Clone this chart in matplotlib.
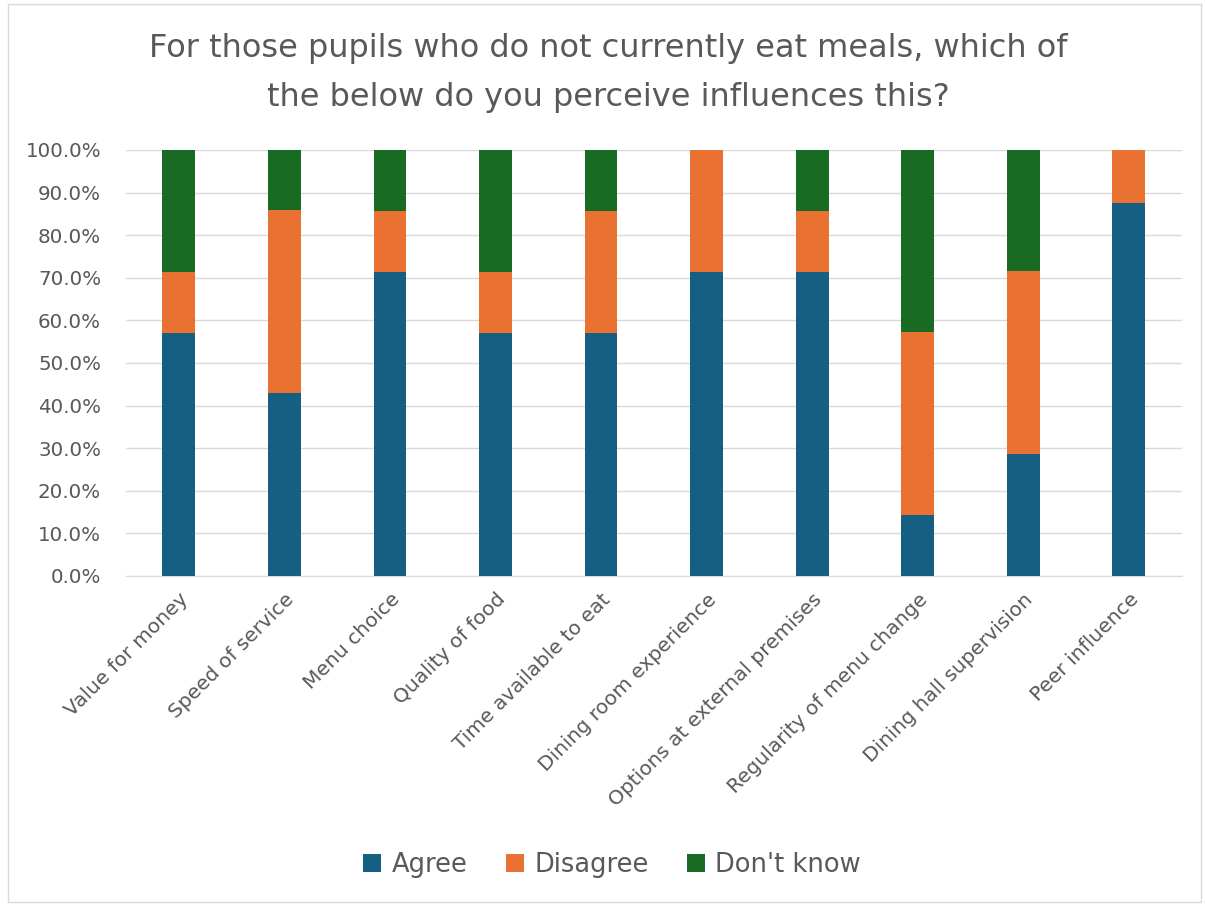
import matplotlib.pyplot as plt
import numpy as np

categories = ["Value for money", "Speed of service", "Menu choice", "Quality of food",
              "Time available to eat", "Dining room experience",
              "Options at external premises", "Regularity of menu change",
              "Dining hall supervision", "Peer influence"]
agree = [57.1, 42.9, 71.4, 57.1, 57.1, 71.4, 71.4, 14.3, 28.6, 87.5]
disagree = [14.3, 42.9, 14.3, 14.3, 28.6, 28.6, 14.3, 42.9, 42.9, 12.5]
dont_know = [28.6, 14.3, 14.3, 28.6, 14.3, 0.0, 14.3, 42.9, 28.6, 0.0]
y_ticks = [0, 10, 20, 30, 40, 50, 60, 70, 80, 90, 100]

colors = {"Agree": "#156082", "Disagree": "#E97132", "Don't know": "#196B24"}
text_grey = "#595959"

fig = plt.figure(figsize=(12.05, 9.07), dpi=100)
ax = fig.add_axes([0.1046, 0.365, 0.876, 0.4697])

x = np.arange(len(categories))
w = 0.31
a = np.array(agree)
d = np.array(disagree)
k = np.array(dont_know)
ax.bar(x, a, w, color=colors["Agree"], label="Agree", zorder=3)
ax.bar(x, d, w, bottom=a, color=colors["Disagree"], label="Disagree", zorder=3)
ax.bar(x, k, w, bottom=a + d, color=colors["Don't know"], label="Don't know", zorder=3)

ax.set_xlim(-0.5, len(categories) - 0.5)
ax.set_ylim(0, 100)
ax.set_yticks(y_ticks)
ax.set_yticklabels([f"{v:.1f}%" for v in y_ticks], color=text_grey, fontsize=14.3)
ax.yaxis.grid(True, color="#D9D9D9", linewidth=1, zorder=0)
ax.set_xticks(x)
ax.set_xticklabels(categories, rotation=45, ha="right", rotation_mode="anchor",
                   color=text_grey, fontsize=14.5)
ax.tick_params(axis="y", length=0, pad=18)
ax.tick_params(axis="x", length=0, pad=10)
for s in ["top", "right", "left"]:
    ax.spines[s].set_visible(False)
ax.spines["bottom"].set_color("#D9D9D9")

fig.text(0.505, 0.92, "For those pupils who do not currently eat meals, which of\n"
         "the below do you perceive influences this?",
         ha="center", va="center", fontsize=23, color=text_grey, linespacing=1.75)

fig.legend(loc="center", bbox_to_anchor=(0.508, 0.046), ncol=3, frameon=False,
           fontsize=18.5, labelcolor=text_grey, handlelength=0.7, handleheight=0.7,
           columnspacing=1.5, handletextpad=0.4)

border = plt.Rectangle((0.0066, 0.006), 0.99, 0.99, transform=fig.transFigure,
                       fill=False, edgecolor="#D9D9D9", linewidth=1)
fig.add_artist(border)

fig.savefig("out.png", dpi=100, facecolor="white")
